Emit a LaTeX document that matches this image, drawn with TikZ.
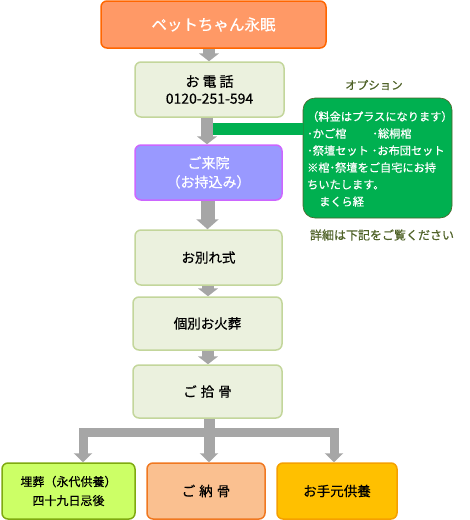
\documentclass[tikz,border=0pt]{standalone}
\usepackage{fontspec}
\setmainfont{Noto Sans CJK JP}[FakeBold=0.6]
\usetikzlibrary{arrows.meta}
\definecolor{grayarrow}{HTML}{A6A6A6}
\definecolor{topfill}{HTML}{FF9966}
\definecolor{topdraw}{HTML}{FF6600}
\definecolor{stepfill}{HTML}{EBF1DE}
\definecolor{stepdraw}{HTML}{C3D69B}
\definecolor{visitfill}{HTML}{9999FF}
\definecolor{visitdraw}{HTML}{CC66FF}
\definecolor{optfill}{HTML}{00B050}
\definecolor{optdraw}{HTML}{4F6228}
\definecolor{olivetext}{HTML}{4F6228}
\definecolor{bonefill}{HTML}{CCFF66}
\definecolor{bonedraw}{HTML}{7FAA10}
\definecolor{nofill}{HTML}{FAC090}
\definecolor{nodraw}{HTML}{F07820}
\definecolor{tefill}{HTML}{FFC000}
\definecolor{tedraw}{HTML}{F5A000}
\begin{document}
\begin{tikzpicture}[x=1pt,y=-1pt,
  flowbox/.style={draw, rounded corners=6pt, line width=1.5pt, align=center, inner sep=0pt, font=\fontsize{13.5}{16.5}\selectfont},
  grayflow/.style={draw=grayarrow, line width=12pt, -{Triangle[width=20pt,length=8pt]}},
  bigflow/.style={draw=grayarrow, line width=14pt, -{Triangle[width=22pt,length=10pt]}},
  branch/.style={draw=grayarrow, line width=9pt, line join=miter, -{Triangle[width=18pt,length=9pt]}},
]
\useasboundingbox (0,0) rectangle (470,520);
% main column
\node[flowbox, fill=topfill, draw=topdraw, text=white, minimum width=225pt, minimum height=47pt,
  font=\fontsize{15.5}{18}\selectfont] (top) at (213.5,24.5) {ペットちゃん永眠};
\node[flowbox, fill=stepfill, draw=stepdraw, minimum width=149pt, minimum height=55pt,
  font=\fontsize{14}{17}\selectfont] (tel) at (209.5,89.5) {お\hspace{3pt}電\hspace{3pt}話\\0120-251-594};
\node[flowbox, fill=visitfill, draw=visitdraw, text=white, minimum width=147pt, minimum height=55pt,
  font=\fontsize{14}{19}\selectfont] (visit) at (208.5,172.5) {ご来院\\（お持込み）};
\node[flowbox, fill=stepfill, draw=stepdraw, minimum width=147pt, minimum height=55pt] (fare) at (208.5,257.5) {お別れ式};
\node[flowbox, fill=stepfill, draw=stepdraw, minimum width=149pt, minimum height=53pt] (crem) at (207.5,323.5) {個別お火葬};
\node[flowbox, fill=stepfill, draw=stepdraw, minimum width=149pt, minimum height=53pt] (bone) at (207.5,391.5) {ご\hspace{4pt}拾\hspace{4pt}骨};
% bottom row
\node[flowbox, fill=bonefill, draw=bonedraw, minimum width=133pt, minimum height=56pt,
  font=\fontsize{12}{19}\selectfont] (bury) at (68.5,491) {埋葬（永代供養）\\四十九日忌後};
\node[flowbox, fill=nofill, draw=nodraw, minimum width=118pt, minimum height=56pt] (nokotsu) at (206,491) {ご\hspace{4pt}納\hspace{4pt}骨};
\node[flowbox, fill=tefill, draw=tedraw, minimum width=120pt, minimum height=56pt] (temoto) at (337,491) {お手元供養};
% options
\node[font=\fontsize{11.5}{14}\selectfont, text=olivetext] (opttitle) at (374,85) {オプション};
\node[draw=optdraw, line width=0.6pt, fill=optfill, rounded corners=12pt, minimum width=149pt, minimum height=120pt] (opt) at (377.5,158) {};
\node[text=white, anchor=north west, align=left, inner sep=0pt, font=\fontsize{11.2}{17}\selectfont] (opttext) at (307,111)
  {（料金はプラスになります）\\･かご棺\hspace{26pt}･総桐棺\\･祭壇セット\hspace{3pt}･お布団セット\\※棺･祭壇をご自宅にお持\\ちいたします。\\\hspace{12pt}まくら経};
\node[font=\fontsize{12}{14}\selectfont, text=olivetext] (detail) at (382,235) {詳細は下記をご覧ください};
% arrows
\draw[grayflow] (top.south -| 209,0) -- (tel.north -| 209,0);
\coordinate (barstart) at (213,129);
\draw[draw=optfill, line width=12pt] (barstart) -- (opt.west |- barstart);
\draw[grayflow] (tel.south -| 207,0) -- (visit.north -| 207,0);
\draw[bigflow] (visit.south -| 207.5,0) -- (fare.north -| 207.5,0);
\draw[grayflow] (fare.south -| 208,0) -- (crem.north -| 208,0);
\draw[grayflow] (crem.south -| 208,0) -- (bone.north -| 208,0);
\coordinate (hbar) at (0,432);
\draw[branch] (bone.south -| 209,0) -- (hbar -| 209,0) -| (bury.north -| 83,0);
\draw[branch] (bone.south -| 209,0) -- (hbar -| 209,0) -| (temoto.north -| 334,0);
\draw[branch, line width=11pt] (bone.south -| 209,0) -- (nokotsu.north -| 209,0);
\end{tikzpicture}
\end{document}
